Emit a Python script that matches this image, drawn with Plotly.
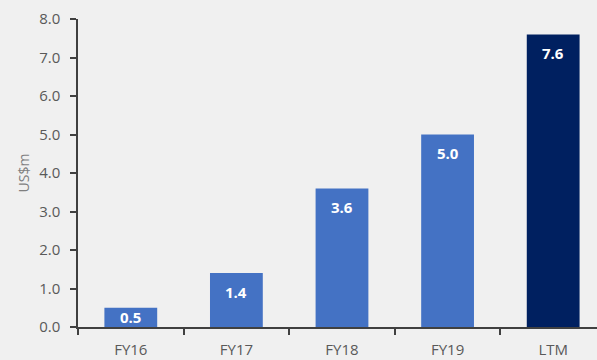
import plotly.graph_objects as go

categories = ["FY16", "FY17", "FY18", "FY19", "LTM"]
values = [0.5, 1.4, 3.6, 5.0, 7.6]
bar_colors = ["#4472C4", "#4472C4", "#4472C4", "#4472C4", "#002060"]
y_ticks = [0, 1, 2, 3, 4, 5, 6, 7, 8]

fig = go.Figure(
    go.Bar(
        x=categories,
        y=values,
        marker=dict(color=bar_colors, line=dict(width=0)),
        width=0.5,
        hoverinfo="x+y",
    )
)

# value labels inside the top of each bar (centred when the bar is short)
label_offset = 0.49  # in data units (~19px)
for c, v in zip(categories, values):
    fig.add_annotation(
        x=c,
        y=max(v - label_offset, v / 2),
        text=f"{v:.1f}",
        showarrow=False,
        xanchor="center",
        yanchor="middle",
        font=dict(family="Open Sans", size=15, color="white", weight="bold"),
    )

fig.update_layout(
    width=597,
    height=360,
    margin=dict(l=78, r=0, t=19, b=33),
    paper_bgcolor="#F0F0F0",
    plot_bgcolor="#F0F0F0",
    showlegend=False,
    font=dict(family="Open Sans", size=14, color="#595959"),
)
fig.update_xaxes(
    range=[-0.5, 4.415],
    showline=True,
    linecolor="#404040",
    linewidth=1.5,
    ticks="outside",
    tickson="boundaries",
    ticklen=6,
    tickcolor="#404040",
    tickwidth=1.5,
    showgrid=False,
    tickfont=dict(size=15, color="#595959"),
    ticklabelstandoff=8,
)
fig.update_yaxes(
    range=[0, 8],
    tickvals=y_ticks,
    ticktext=[f"{t:.1f}" for t in y_ticks],
    showline=True,
    linecolor="#404040",
    linewidth=1.5,
    ticks="outside",
    ticklen=6,
    tickcolor="#404040",
    tickwidth=1.5,
    showgrid=False,
    zeroline=False,
    tickfont=dict(size=15, color="#595959"),
    ticklabelstandoff=7,
    title=dict(text="US$m", font=dict(size=14, color="#7F7F7F"), standoff=6),
)

fig.write_html("out.html")
